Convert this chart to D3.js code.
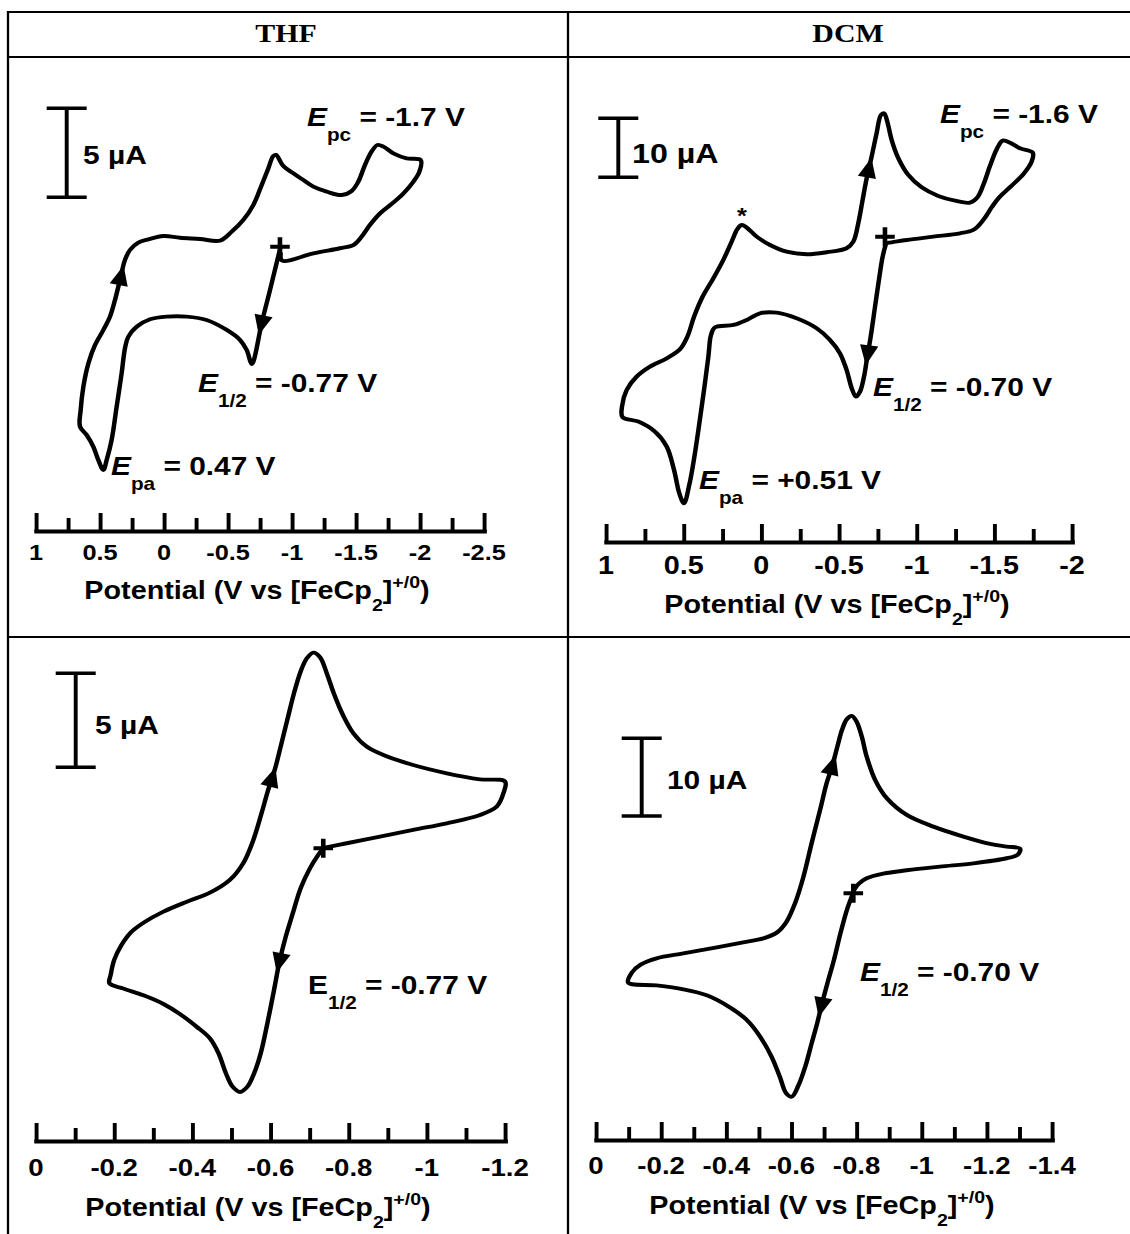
<!DOCTYPE html>
<html>
<head>
<meta charset="utf-8">
<script src="https://cdn.jsdelivr.net/npm/d3@7"></script>
<style>
  body { margin: 0; background: #fff; }
  svg text { white-space: pre; }
</style>
</head>
<body>
<script>
// ---------- data: potential (V vs FeCp2+/0), current (µA, cathodic up) ----------
const solvents = ["THF", "DCM"];

// wide-window scans (top row)
const thfWideScan = [[-0.906,-0.13],[-0.828,-2.42],[-0.763,-4.29],[-0.698,-6.44],[-0.685,-6.57],[-0.646,-5.79],[-0.594,-5.22],[-0.490,-4.66],[-0.333,-4.10],[-0.177,-3.91],[-0.021,-3.91],[0.109,-4.06],[0.214,-4.48],[0.279,-5.04],[0.305,-5.69],[0.331,-7.10],[0.370,-8.97],[0.409,-10.84],[0.448,-11.97],[0.474,-12.53],[0.513,-11.97],[0.552,-11.22],[0.604,-10.56],[0.656,-10.09],[0.651,-9.16],[0.630,-7.85],[0.591,-6.54],[0.539,-5.51],[0.474,-4.66],[0.422,-3.91],[0.383,-2.98],[0.344,-1.85],[0.305,-0.73],[0.266,-0.17],[0.201,0.24],[0.122,0.43],[0.005,0.62],[-0.125,0.52],[-0.281,0.45],[-0.438,0.36],[-0.529,0.86],[-0.620,1.52],[-0.698,2.36],[-0.763,3.48],[-0.815,4.42],[-0.854,5.11],[-0.875,5.17],[-0.932,4.55],[-1.010,4.14],[-1.089,3.76],[-1.167,3.39],[-1.271,3.11],[-1.388,2.92],[-1.466,3.15],[-1.518,3.67],[-1.570,4.61],[-1.622,5.36],[-1.667,5.73],[-1.714,5.64],[-1.792,5.26],[-1.896,4.98],[-2.005,4.89],[-1.995,4.23],[-1.948,3.67],[-1.870,3.01],[-1.779,2.42],[-1.688,1.89],[-1.609,1.24],[-1.544,0.58],[-1.479,0.11],[-1.375,-0.07],[-1.167,-0.36],[-0.924,-0.77],[-0.911,-0.36]];

const dcmWideScan = [[-0.803,-0.85],[-0.781,-3.11],[-0.760,-6.50],[-0.732,-11.58],[-0.704,-16.67],[-0.682,-20.06],[-0.661,-23.45],[-0.635,-25.99],[-0.609,-26.84],[-0.582,-25.42],[-0.549,-22.32],[-0.506,-19.49],[-0.442,-17.23],[-0.356,-15.25],[-0.227,-13.56],[-0.099,-12.60],[0.009,-12.71],[0.094,-13.84],[0.180,-14.69],[0.298,-15.08],[0.324,-16.38],[0.341,-20.06],[0.369,-25.71],[0.399,-31.36],[0.431,-37.01],[0.464,-41.81],[0.498,-44.92],[0.528,-43.22],[0.562,-39.27],[0.609,-35.31],[0.685,-32.77],[0.792,-31.07],[0.893,-30.34],[0.897,-28.53],[0.867,-25.71],[0.803,-23.45],[0.717,-21.75],[0.609,-20.34],[0.524,-18.81],[0.476,-16.67],[0.433,-13.28],[0.378,-9.89],[0.309,-6.78],[0.245,-3.67],[0.191,-0.56],[0.155,1.53],[0.127,2.26],[0.094,1.81],[0.030,0.28],[-0.056,-1.13],[-0.163,-2.26],[-0.292,-2.71],[-0.421,-2.37],[-0.549,-1.69],[-0.592,-0.56],[-0.624,2.54],[-0.652,6.50],[-0.678,10.17],[-0.710,13.84],[-0.742,17.80],[-0.770,20.90],[-0.790,21.19],[-0.811,19.77],[-0.839,16.67],[-0.882,13.56],[-0.946,10.73],[-1.032,8.64],[-1.139,7.18],[-1.247,6.38],[-1.343,6.05],[-1.391,6.95],[-1.429,9.04],[-1.472,12.26],[-1.515,15.08],[-1.554,16.55],[-1.601,16.21],[-1.665,15.25],[-1.747,14.52],[-1.740,12.99],[-1.691,11.02],[-1.605,8.76],[-1.532,6.95],[-1.483,5.25],[-1.429,3.11],[-1.365,1.41],[-1.279,0.85],[-1.107,0.28],[-0.936,-0.28],[-0.839,-0.68],[-0.805,-0.80]];

// reversible couple only (bottom row)
const thfCouple = [[-0.735,0],[-0.722,-0.35],[-0.701,-1.06],[-0.677,-2.13],[-0.657,-3.46],[-0.639,-4.70],[-0.623,-6.03],[-0.609,-7.54],[-0.592,-9.31],[-0.575,-10.90],[-0.558,-11.97],[-0.541,-12.68],[-0.522,-12.96],[-0.503,-12.68],[-0.486,-11.97],[-0.467,-10.90],[-0.445,-10.11],[-0.411,-9.49],[-0.368,-8.81],[-0.326,-8.28],[-0.275,-7.82],[-0.223,-7.46],[-0.188,-7.18],[-0.191,-6.74],[-0.200,-5.94],[-0.217,-5.20],[-0.242,-4.49],[-0.276,-3.95],[-0.326,-3.37],[-0.386,-2.84],[-0.445,-2.36],[-0.496,-1.68],[-0.530,-0.80],[-0.556,0.44],[-0.577,1.86],[-0.594,3.10],[-0.612,4.26],[-0.626,5.41],[-0.643,6.83],[-0.660,8.24],[-0.677,9.40],[-0.693,10.11],[-0.710,10.41],[-0.727,10.16],[-0.744,9.31],[-0.762,8.24],[-0.784,7.15],[-0.812,6.12],[-0.846,5.41],[-0.889,4.96],[-0.965,4.43],[-1.051,3.99],[-1.136,3.67],[-1.200,3.55],[-1.196,2.93],[-1.179,2.22],[-1.136,1.77],[-1.051,1.33],[-0.965,0.98],[-0.880,0.62],[-0.795,0.27],[-0.739,0.04]];

const dcmCouple = [[-0.790,0.09],[-0.772,-1.93],[-0.751,-5.06],[-0.731,-8.50],[-0.711,-11.50],[-0.694,-14.16],[-0.679,-16.74],[-0.662,-19.31],[-0.643,-22.23],[-0.622,-24.68],[-0.601,-26.18],[-0.583,-25.67],[-0.565,-23.69],[-0.539,-21.03],[-0.504,-18.45],[-0.463,-16.31],[-0.411,-14.68],[-0.340,-13.13],[-0.268,-12.36],[-0.186,-11.85],[-0.099,-11.50],[-0.110,-10.21],[-0.137,-9.18],[-0.186,-8.37],[-0.268,-7.73],[-0.371,-6.95],[-0.452,-6.31],[-0.514,-5.79],[-0.555,-5.06],[-0.585,-3.65],[-0.611,-1.29],[-0.637,2.15],[-0.662,6.44],[-0.688,10.73],[-0.708,14.16],[-0.726,16.52],[-0.741,18.88],[-0.756,21.12],[-0.770,22.40],[-0.785,22.83],[-0.800,22.10],[-0.816,20.17],[-0.831,17.60],[-0.857,14.59],[-0.893,12.23],[-0.954,10.09],[-1.036,8.58],[-1.128,7.30],[-1.210,6.35],[-1.261,6.01],[-1.302,5.75],[-1.294,4.94],[-1.261,4.51],[-1.159,3.86],[-1.056,3.43],[-0.954,2.96],[-0.882,2.53],[-0.831,1.93],[-0.806,1.20],[-0.792,0.43]];

// scan-direction arrows and rest-potential markers
const thfWideArrows = [[-0.763,-4.29],[0.335,-1.70]];
const dcmWideArrows = [[-0.689,-19.5],[-0.704,11.6]];
const thfCoupleArrows = [[-0.623,-6.0],[-0.603,3.7]];
const dcmCoupleArrows = [[-0.688,-14.4],[-0.724,16.3]];
const startPoints = [[-0.906,0.02],[-0.796,0.28],[-0.735,0],[-0.790,0]];

// potential axes
const wideMajorTicks = [1, 0.5, 0, -0.5, -1, -1.5, -2, -2.5];
const wideMajorLabels = ["1", "0.5", "0", "-0.5", "-1", "-1.5", "-2", "-2.5"];
const wideMinorTicks = [0.75, 0.25, -0.25, -0.75, -1.25, -1.75, -2.25];
const thfCoupleMajorTicks = [0, -0.2, -0.4, -0.6, -0.8, -1, -1.2];
const thfCoupleLabels = ["0", "-0.2", "-0.4", "-0.6", "-0.8", "-1", "-1.2"];
const coupleMinorTicks = [-0.1, -0.3, -0.5, -0.7, -0.9, -1.1, -1.3];
const dcmCoupleMajorTicks = [0, -0.2, -0.4, -0.6, -0.8, -1, -1.2, -1.4];
const dcmCoupleLabels = ["0", "-0.2", "-0.4", "-0.6", "-0.8", "-1", "-1.2", "-1.4"];

// current scale bars (µA)
const scaleBarValues = [5, 10, 5, 10];
const scaleBarLabels = ["5 µA", "10 µA", "5 µA", "10 µA"];

// peak annotations: [symbol, subscript, rest]
const thfWideNotes = [["E", "pc", " = -1.7 V"], ["E", "1/2", " = -0.77 V"], ["E", "pa", " = 0.47 V"]];
const dcmWideNotes = [["E", "pc", " = -1.6 V"], ["E", "1/2", " = -0.70 V"], ["E", "pa", " = +0.51 V"]];
const thfCoupleNotes = [["E", "1/2", " = -0.77 V"]];
const dcmCoupleNotes = [["E", "1/2", " = -0.70 V"]];

// ---------- layout ----------
const W = 1130, H = 1234;
const SX = 1.15;              // horizontal stretch of the whole figure
const FONT = '"Liberation Sans", Arial, Helvetica, sans-serif';
const SERIF = '"Liberation Serif", "Times New Roman", serif';

const svg = d3.select("body").append("svg").attr("width", W).attr("height", H);
svg.append("rect").attr("width", W).attr("height", H).attr("fill", "#fff");
const root = svg.append("g").attr("transform", `scale(${SX},1)`);
const nx = v => v / SX;

// table grid
const grid = root.append("g").attr("stroke", "#000").attr("stroke-width", 2);
[[8, W, 12], [8, W, 57], [8, W, 637]].forEach(([a, b, yy]) =>
  grid.append("line").attr("x1", nx(a)).attr("x2", nx(b)).attr("y1", yy).attr("y2", yy));
[8, 568].forEach(xx =>
  grid.append("line").attr("x1", nx(xx)).attr("x2", nx(xx)).attr("y1", 11).attr("y2", H));

root.selectAll("text.head").data(solvents).join("text")
  .attr("class", "head")
  .attr("x", (d, i) => nx(i === 0 ? 286 : 848)).attr("y", 42)
  .attr("text-anchor", "middle")
  .attr("font-family", SERIF).attr("font-weight", "bold").attr("font-size", 26)
  .text(d => d);

const panels = [
  { curve: thfWideScan, arrows: thfWideArrows, start: startPoints[0],
    xDomain: [1, -2.5], xPx: [36, 484], zeroY: 247, pxPerUnit: 17.8,
    major: wideMajorTicks, labels: wideMajorLabels, minor: wideMinorTicks,
    axisY: 531, labelY: 560, tickFont: 22, titleY: 599, titleX: 257,
    bar: scaleBarValues[0], barLabel: scaleBarLabels[0], barX: 66.7, barBottom: 197.3,
    barTextX: 83, barTextY: 164, barFont: 26,
    notes: thfWideNotes, notePos: [[307, 126], [198, 392], [111, 475]], italic: true },
  { curve: dcmWideScan, arrows: dcmWideArrows, start: startPoints[1],
    xDomain: [1, -2], xPx: [606, 1072], zeroY: 238.3, pxPerUnit: 5.9,
    major: wideMajorTicks.slice(0, 7), labels: wideMajorLabels.slice(0, 7), minor: wideMinorTicks.slice(0, 6),
    axisY: 542, labelY: 574, tickFont: 25, titleY: 613, titleX: 837,
    bar: scaleBarValues[1], barLabel: scaleBarLabels[1], barX: 618.3, barBottom: 177.3,
    barTextX: 632, barTextY: 163, barFont: 28,
    notes: dcmWideNotes, notePos: [[940, 123], [873, 396], [699, 489]], italic: true, star: [742, 223] },
  { curve: thfCouple, arrows: thfCoupleArrows, start: startPoints[2],
    xDomain: [0, -1.2], xPx: [36, 505], zeroY: 848.3, pxPerUnit: 18.8,
    major: thfCoupleMajorTicks, labels: thfCoupleLabels, minor: coupleMinorTicks.slice(0, 6),
    axisY: 1141, labelY: 1176, tickFont: 24, titleY: 1216, titleX: 258,
    bar: scaleBarValues[2], barLabel: scaleBarLabels[2], barX: 75.7, barBottom: 767.3,
    barTextX: 95, barTextY: 734, barFont: 26,
    notes: thfCoupleNotes, notePos: [[308, 994]], italic: false },
  { curve: dcmCouple, arrows: dcmCoupleArrows, start: startPoints[3],
    xDomain: [0, -1.4], xPx: [596, 1052], zeroY: 893.3, pxPerUnit: 7.77,
    major: dcmCoupleMajorTicks, labels: dcmCoupleLabels, minor: coupleMinorTicks,
    axisY: 1140, labelY: 1174, tickFont: 24, titleY: 1214, titleX: 822,
    bar: scaleBarValues[3], barLabel: scaleBarLabels[3], barX: 641.7, barBottom: 816,
    barTextX: 667, barTextY: 789, barFont: 26,
    notes: dcmCoupleNotes, notePos: [[860, 981]], italic: true }
];

// nearest point on the polyline, with the local direction of travel
function projectOnPath(pts, p) {
  let best = null;
  for (let i = 0; i < pts.length - 1; i++) {
    const [ax, ay] = pts[i], [bx, by] = pts[i + 1];
    const dx = bx - ax, dy = by - ay, L = dx * dx + dy * dy || 1;
    let t = ((p[0] - ax) * dx + (p[1] - ay) * dy) / L;
    t = Math.max(0, Math.min(1, t));
    const qx = ax + t * dx, qy = ay + t * dy;
    const d = (qx - p[0]) ** 2 + (qy - p[1]) ** 2;
    if (!best || d < best.d) best = { d, x: qx, y: qy, ang: Math.atan2(dy, dx) * 180 / Math.PI };
  }
  return best;
}

panels.forEach(p => {
  const x = d3.scaleLinear().domain(p.xDomain).range(p.xPx.map(nx));
  const y = d3.scaleLinear().domain([0, p.bar]).range([p.zeroY, p.zeroY - p.bar * p.pxPerUnit]);
  const g = root.append("g");

  // voltammogram
  const line = d3.line().x(d => x(d[0])).y(d => y(d[1])).curve(d3.curveCatmullRom.alpha(0.5));
  g.append("path").datum(p.curve).attr("d", line)
    .attr("fill", "none").attr("stroke", "#000").attr("stroke-width", 3.9)
    .attr("stroke-linejoin", "round").attr("stroke-linecap", "round");

  // scan direction arrowheads
  const scr = p.curve.map(d => [x(d[0]), y(d[1])]);
  p.arrows.forEach(a => {
    const q = projectOnPath(scr, [x(a[0]), y(a[1])]);
    g.append("path").attr("d", "M12,0L-8,-8L-8,8Z")
      .attr("transform", `translate(${q.x},${q.y}) rotate(${q.ang})`)
      .attr("fill", "#000");
  });

  // rest potential marker
  g.append("path").attr("d", "M-8.5,0H8.5M0,-9.5V9.5")
    .attr("transform", `translate(${x(p.start[0])},${y(p.start[1])})`)
    .attr("stroke", "#000").attr("stroke-width", 4).attr("fill", "none");

  // potential axis: ticks upward, labels below
  const ax = g.append("g").attr("transform", `translate(0,${p.axisY})`);
  ax.call(d3.axisTop(x).tickValues(p.major).tickSizeInner(18).tickSizeOuter(0).tickFormat(""));
  ax.append("g").call(d3.axisTop(x).tickValues(p.minor).tickSizeInner(13).tickSizeOuter(0).tickFormat(""))
    .select(".domain").remove();
  ax.selectAll(".domain").attr("stroke", "#000").attr("stroke-width", 4).attr("stroke-linecap", "square");
  ax.selectAll(".tick line").attr("stroke", "#000").attr("stroke-width", 3.4);

  g.selectAll("text.tl").data(p.major).join("text").attr("class", "tl")
    .attr("x", d => x(d)).attr("y", p.labelY)
    .attr("text-anchor", "middle").attr("font-family", FONT).attr("font-weight", "bold")
    .attr("font-size", p.tickFont)
    .text((d, i) => p.labels[i]);

  const t = g.append("text").attr("x", nx(p.titleX)).attr("y", p.titleY)
    .attr("text-anchor", "middle").attr("font-family", FONT).attr("font-weight", "bold").attr("font-size", 25);
  t.append("tspan").text("Potential (V vs [FeCp");
  t.append("tspan").attr("dy", 12).attr("font-size", 17).text("2");
  t.append("tspan").attr("dy", -12).text("]");
  t.append("tspan").attr("dy", -11).attr("font-size", 17).text("+/0");
  t.append("tspan").attr("dy", 11).text(")");

  // current scale bar
  const barLen = y(0) - y(p.bar);
  const bx = nx(p.barX), by = p.barBottom, cap = nx(20);
  const sb = g.append("g").attr("stroke", "#000").attr("stroke-width", 3.4);
  sb.append("line").attr("x1", bx).attr("x2", bx).attr("y1", by).attr("y2", by - barLen);
  sb.append("line").attr("x1", bx - cap).attr("x2", bx + cap).attr("y1", by).attr("y2", by);
  sb.append("line").attr("x1", bx - cap).attr("x2", bx + cap).attr("y1", by - barLen).attr("y2", by - barLen);
  g.append("text").attr("x", nx(p.barTextX)).attr("y", p.barTextY)
    .attr("font-family", FONT).attr("font-weight", "bold").attr("font-size", p.barFont).text(p.barLabel);

  // peak annotations
  p.notes.forEach((n, i) => {
    const [px, py] = p.notePos[i];
    const tx = g.append("text").attr("x", nx(px)).attr("y", py)
      .attr("font-family", FONT).attr("font-weight", "bold").attr("font-size", 26);
    tx.append("tspan").attr("font-style", p.italic ? "italic" : "normal").text(n[0]);
    tx.append("tspan").attr("dy", 15).attr("font-size", 18).text(n[1]);
    tx.append("tspan").attr("dy", -15).text(n[2]);
  });

  if (p.star) {
    g.append("text").attr("x", nx(p.star[0])).attr("y", p.star[1]).attr("text-anchor", "middle")
      .attr("font-family", FONT).attr("font-weight", "bold").attr("font-size", 22).text("*");
  }
});
</script>
</body>
</html>
